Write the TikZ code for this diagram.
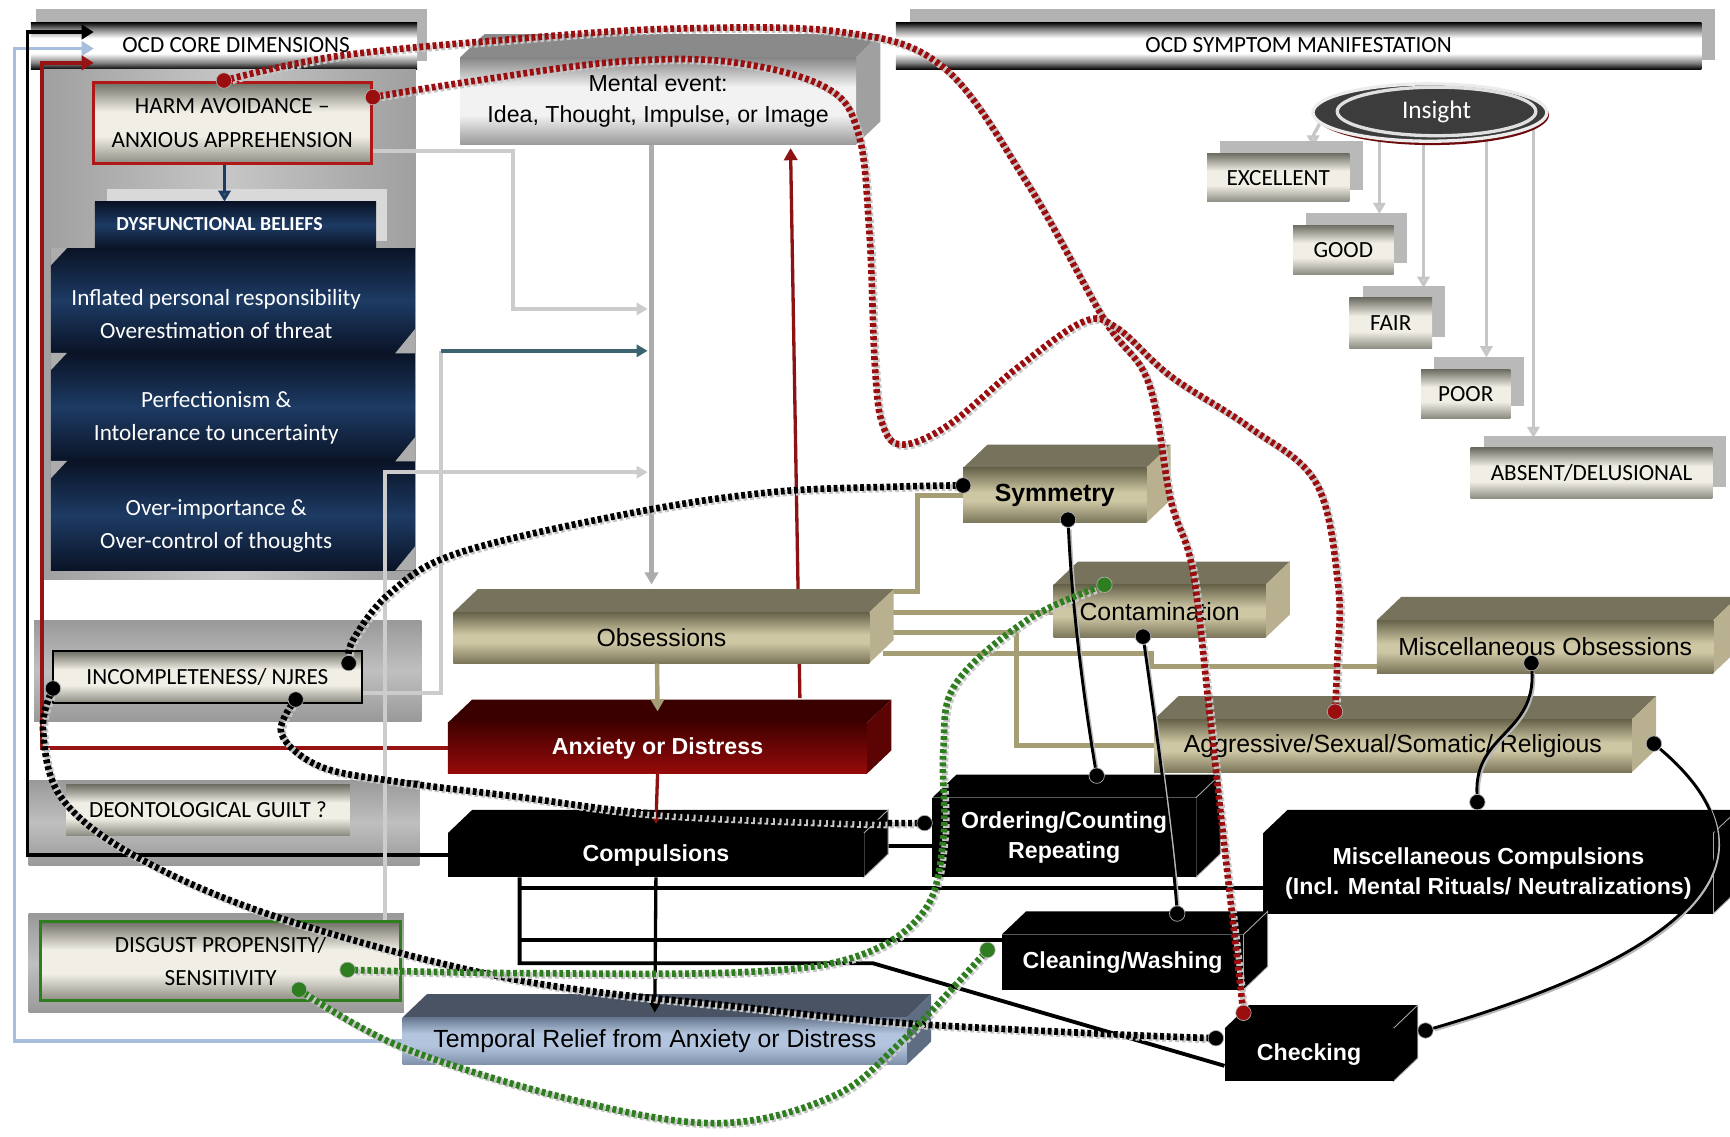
\documentclass[tikz,border=0pt]{standalone}
\usepackage{fontspec}
\setmainfont{Carlito}
\newfontfamily\arialf{Liberation Sans}
\usetikzlibrary{arrows.meta,calc,shapes.geometric}

\pgfdeclarelayer{back}
\pgfdeclarelayer{bg}
\pgfdeclarelayer{fore}
\pgfsetlayers{back,bg,main,fore}

% palette
\definecolor{khT}{HTML}{77725B}
\definecolor{khS}{HTML}{B8B08E}
\definecolor{khD}{HTML}{67634A}
\definecolor{khB}{HTML}{7A7559}
\definecolor{khL}{HTML}{CEC7A4}
\definecolor{anxT}{HTML}{3A0000}
\definecolor{anxS}{HTML}{5C0404}
\definecolor{anxD}{HTML}{420000}
\definecolor{anxL}{HTML}{960A0A}
\definecolor{tmpT}{HTML}{4A5363}
\definecolor{tmpS}{HTML}{5E6D82}
\definecolor{tmpB}{HTML}{7F90AA}
\definecolor{tmpL}{HTML}{B2C4DE}
\definecolor{tmpD}{HTML}{66768E}
\definecolor{menT}{HTML}{8A8A8A}
\definecolor{menS}{HTML}{A0A0A0}
\definecolor{menB}{HTML}{9A9A9A}
\definecolor{menL}{HTML}{F2F2F2}
\definecolor{menD}{HTML}{858585}
\definecolor{navyD}{HTML}{0A1326}
\definecolor{navyM}{HTML}{1D3B64}
\definecolor{crB}{HTML}{8C8B82}
\definecolor{crD}{HTML}{6F6E64}
\definecolor{crL}{HTML}{F1EFE5}
\definecolor{dotred}{HTML}{9B0E10}
\definecolor{dotgreen}{HTML}{2E7D1E}
\definecolor{lblue}{HTML}{A7BEDC}
\definecolor{harmred}{HTML}{B01818}
\definecolor{khline}{HTML}{A59D74}
\definecolor{tealln}{HTML}{3C6470}
\definecolor{insdark}{HTML}{3C3C3C}

\pgfdeclareverticalshading{barsh}{100bp}{color(0bp)=(black); color(25bp)=(black); color(32bp)=(gray); color(42bp)=(white); color(58bp)=(white); color(68bp)=(gray); color(75bp)=(black); color(100bp)=(black)}
\pgfdeclareverticalshading{creamsh}{100bp}{color(0bp)=(crB); color(25bp)=(crB); color(42bp)=(crL); color(57bp)=(crL); color(75bp)=(crD); color(100bp)=(crD)}
\pgfdeclareverticalshading{khsh}{100bp}{color(0bp)=(khB); color(25bp)=(khB); color(45bp)=(khL); color(53bp)=(khL); color(75bp)=(khD); color(100bp)=(khD)}
\pgfdeclareverticalshading{mensh}{100bp}{color(0bp)=(menB); color(25bp)=(menB); color(42bp)=(menL); color(58bp)=(menL); color(75bp)=(menD); color(100bp)=(menD)}
\pgfdeclareverticalshading{tmpsh}{100bp}{color(0bp)=(tmpB); color(25bp)=(tmpB); color(45bp)=(tmpL); color(58bp)=(tmpL); color(75bp)=(tmpD); color(100bp)=(tmpD)}

\tikzset{
  cal/.style={font=\fontsize{21}{30}\selectfont},
  face/.style={inner sep=0pt, align=center},
  hdr/.style={face, shade, shading=barsh},
  cream/.style={face, cal, shade, shading=creamsh},
  navy/.style={face, top color=navyD, bottom color=navyD, middle color=navyM},
  wtxt/.style={cal, text=white, align=center, inner sep=0pt},
  ctxt/.style={cal, align=center, inner sep=0pt},
  khfront/.style={face, font=\arialf\fontsize{22.5}{28}\selectfont, shade, shading=khsh},
  khtop/.style={fill=khT},
  khside/.style={fill=khS},
  cpfront/.style={face, font=\arialf\bfseries\fontsize{21}{27}\selectfont, fill=black, text=white},
  cptop/.style={fill=black},
  cpside/.style={fill=black, draw=gray!70, line width=0.8pt},
  anxfront/.style={face, font=\arialf\bfseries\fontsize{21}{27}\selectfont, top color=anxD, bottom color=anxL, text=white},
  anxtop/.style={fill=anxT},
  anxside/.style={fill=anxS},
  tmpfront/.style={face, font=\arialf\fontsize{22.5}{28}\selectfont, shade, shading=tmpsh},
  tmptop/.style={fill=tmpT},
  tmpside/.style={fill=tmpS},
  menfront/.style={face, font=\arialf\fontsize{21}{28}\selectfont, shade, shading=mensh},
  mentop/.style={fill=menT},
  menside/.style={fill=menS},
  panel/.style={left color=gray!75, right color=gray!75, middle color=gray!45},
  hpanel/.style={top color=gray!80, bottom color=gray!80, middle color=gray!50},
  bevel/.style={fill=gray!65},
  dot/.style={circle, fill=#1, draw=gray!60, line width=0.6pt, minimum size=14pt, inner sep=0pt},
  bkln/.style={line width=3pt, draw=black, -{Triangle[length=11pt,width=13pt]}},
  blln/.style={line width=3pt, draw=lblue, -{Triangle[length=11pt,width=13pt]}},
  rdln/.style={line width=3pt, draw=harmred!85!black, -{Triangle[length=11pt,width=13pt]}},
  lgline/.style={line width=3.5pt, draw=gray!40},
  lgarrow/.style={lgline, -{Triangle[length=10pt,width=11pt]}},
  tealarrow/.style={line width=3pt, draw=tealln, -{Triangle[length=10pt,width=11pt]}},
  nvarrow/.style={line width=3pt, draw=navyM, -{Triangle[length=10pt,width=11pt,fill=tealln]}},
  mvarrow/.style={line width=4pt, draw=gray!65, -{Triangle[length=11pt,width=12pt]}},
  rdarrow/.style={line width=3pt, draw=harmred!80!black, -{Triangle[length=11pt,width=12pt]}},
  kharrow/.style={line width=4pt, draw=khline, -{Triangle[length=11pt,width=12pt,fill=khline]}},
  bkarrow/.style={line width=3pt, draw=black, -{Triangle[length=11pt,width=12pt]}},
  bkthick/.style={line width=3.5pt, draw=black},
  khln/.style={line width=4.5pt, draw=khline},
  insarrow/.style={line width=3pt, draw=gray!45, -{Triangle[length=10pt,width=11pt,fill=gray!35]}},
  bcurve/.style={line width=2.6pt, draw=black},
  bshadow/.style={line width=2.6pt, draw=gray!55, transform canvas={xshift=1.5pt,yshift=-1.5pt}},
  dotshadow/.style={line width=6pt, draw=gray!45, dash pattern=on 3.5pt off 2.5pt, transform canvas={xshift=1.8pt,yshift=-1.8pt}},
  dotR/.style={line width=6pt, draw=dotred, dash pattern=on 3.5pt off 2.5pt},
  dotB/.style={line width=6pt, draw=black, dash pattern=on 3.5pt off 2.5pt},
  dotG/.style={line width=6pt, draw=dotgreen, dash pattern=on 3.5pt off 2.5pt},
}

% a box drawn as a slab: top face, right face and a shaded front node
% #1 name, #2 style family, #3 x1, #4 y1, #5 x2, #6 y2, #7 text
\newcommand\slab[7]{%
  \fill[#2top] (#3,#4) -- (#3+22,#4-21) -- (#5+22,#4-21) -- (#5,#4) -- cycle;
  \fill[#2side] (#5,#4) -- (#5+22,#4-21) -- (#5+22,#6-21) -- (#5,#6) -- cycle;
  \node[#2front, minimum width={#5-#3}, minimum height={#6-#4}] (#1) at ({(#3+#5)/2},{(#4+#6)/2}) {#7};
}
% an insight level box with its grey backing plate
\newcommand\level[6]{%
  \fill[gray!55] (#2+12,#3-11) rectangle (#4+12,#5-11);
  \node[cream, minimum width={#4-#2}, minimum height={#5-#3}] (#1) at ({(#2+#4)/2},{(#3+#5)/2}) {#6};
}
% dotted link with its grey shadow
\newcommand\dotlink[2]{%
  \draw[dotshadow] plot[smooth, tension=0.6] coordinates {#2};
  \draw[#1] plot[smooth, tension=0.6] coordinates {#2};
}

\begin{document}
\begin{tikzpicture}[x=1pt,y=-1pt]
\useasboundingbox (0,0) rectangle (1568,1030);

%==================== left column: core dimensions ====================
\begin{pgfonlayer}{back}
\fill[white] (0,0) rectangle (1568,1030);
% header
\fill[gray!60] (33,8) rectangle (387,55);
\node[hdr, minimum width=350, minimum height=43] (hcore) at (203,41.5) {};
\node[ctxt] (hcoret) at (214,41) {OCD CORE DIMENSIONS};
% panel behind harm avoidance and beliefs
\path[panel] (37,63) rectangle (377,525);
\fill[gray!30] (97,171) rectangle (351,218);
\node[cream, draw=harmred, line width=2.5pt, minimum width=252, minimum height=74] (harm) at (210.5,111.5)
  {HARM AVOIDANCE –\\ANXIOUS APPREHENSION};
\node[navy, minimum width=255, minimum height=42] (dys) at (213.5,204) {};
\node[wtxt, font=\bfseries\fontsize{18}{22}\selectfont] (dyst) at (199,203) {DYSFUNCTIONAL BELIEFS};
% belief blocks
\node[navy, minimum width=330, minimum height=95] (b1) at (211,272.5) {};
\node[navy, minimum width=330, minimum height=98] (b2) at (211,369) {};
\node[navy, minimum width=330, minimum height=99] (b3) at (211,467.5) {};
\fill[bevel] (b1.north west) -- ++(15,0) -- ++(-15,16) -- cycle;
\fill[bevel] (b2.north west) -- ++(15,0) -- ++(-15,16) -- cycle;
\fill[bevel] (b3.north west) -- ++(15,0) -- ++(-15,16) -- cycle;
\fill[bevel] (b1.south east) -- ++(0,-22) -- ++(-18,22) -- cycle;
\fill[bevel] (b2.south east) -- ++(0,-22) -- ++(-18,22) -- cycle;
\fill[bevel] (b3.south east) -- ++(0,-22) -- ++(-18,22) -- cycle;
\node[wtxt] (b1t) at (196,285) {Inflated personal responsibility\\Overestimation of threat};
\node[wtxt] (b2t) at (196,379) {Perfectionism \&\\Intolerance to uncertainty};
\node[wtxt] (b3t) at (196,477) {Over-importance \&\\Over-control of thoughts};
% incompleteness
\path[hpanel] (31,562) rectangle (382,654);
\node[cream, draw=black, line width=2pt, minimum width=280, minimum height=47] (inc) at (188,613.5) {INCOMPLETENESS/ NJRES};
% deontological guilt
\path[hpanel] (26,707) rectangle (380,784);
\node[cream, minimum width=257, minimum height=46] (deo) at (188.5,734) {DEONTOLOGICAL GUILT ?};
% disgust
\path[hpanel] (26,828) rectangle (366,918);
\node[cream, draw=dotgreen, line width=2.5pt, minimum width=326, minimum height=72] (dis) at (200,871)
  {DISGUST PROPENSITY/\\SENSITIVITY};
\end{pgfonlayer}

%==================== central chain and symptom blocks ====================
\slab{men}{men}{417}{52}{776}{131}{Mental event:\\Idea, Thought, Impulse, or Image}
\slab{obs}{kh}{411}{555}{788}{601}{Obsessions}
\slab{anx}{anx}{406}{655}{786}{701}{Anxiety or Distress}
\slab{cmp}{cp}{406}{755}{783}{795}{Compulsions}
\slab{tmp}{tmp}{365}{922}{822}{965}{Temporal Relief from Anxiety or Distress}

\slab{sym}{kh}{873}{424}{1039}{474}{\bfseries Symmetry}
\slab{cnt}{kh}{955}{530}{1147}{578}{Contamination}
\slab{mob}{kh}{1248}{562}{1553}{610}{Miscellaneous Obsessions}
\slab{agg}{kh}{1046}{652}{1479}{700}{Aggressive/Sexual/Somatic/ Religious}

\slab{ord}{cp}{845}{723}{1084}{795}{Ordering/Counting\\Repeating}
\slab{msc}{cp}{1145}{755}{1553}{828}{Miscellaneous Compulsions\\(Incl. Mental Rituals/ Neutralizations)}
\slab{cln}{cp}{908}{847}{1127}{897}{Cleaning/Washing}
\slab{chk}{cp}{1110}{932}{1263}{980}{Checking}

% steps of the central chain, drawn over the slab tops
\draw[kharrow] ([xshift=-4pt]obs.south) -- ([yshift=10pt]anx.north);
\draw[rdarrow] (anx.south) -- ([yshift=8pt]cmp.north);
\draw[bkarrow] (cmp.south) -- ([yshift=4pt]tmp.north);

%==================== right column: symptom manifestation ====================
\fill[gray!60] (825,8) rectangle (1554,54);
\node[hdr, minimum width=730, minimum height=43] (hsym) at (1177,41.5) {};
\node[ctxt] (hsymt) at (1177,41) {OCD SYMPTOM MANIFESTATION};

\fill[dotred!70!black] (1298,104) ellipse (106 and 27.5);
\node[ellipse, fill=insdark, draw=gray!15, line width=3pt, minimum width=212, minimum height=52] (insO) at (1296,102) {};
\node[ellipse, fill=insdark, draw=gray!25, line width=3pt, minimum width=180, minimum height=44,
      text=white, font=\fontsize{23}{26}\selectfont] (ins) at (1302,101) {Insight};

\level{exc}{1094}{139}{1223}{183}{EXCELLENT}
\level{good}{1172}{204}{1263}{249}{GOOD}
\level{fair}{1223}{270}{1298}{316}{FAIR}
\level{poor}{1288}{335}{1369}{379}{POOR}
\level{abs}{1333}{406}{1552}{452}{ABSENT/DELUSIONAL}

%==================== solid connectors ====================
\begin{pgfonlayer}{bg}
\coordinate (inBk) at (85,29);
\coordinate (inBl) at (85,44);
\coordinate (inRd) at (85,57);
\draw[blln] (tmp.west) -| (13,44) -- (inBl);
\draw[bkln] (cmp.west) -| (25,29) -- (inBk);
\draw[rdln] (anx.west) -| (38,57) -- (inRd);

\draw[nvarrow] ([xshift=-7pt]harm.south) -- ([xshift=-10pt]dys.north);

\coordinate (mL1) at (587,280);
\coordinate (mL2) at (587,318);
\coordinate (mL3) at (587,428);
\coordinate (tcorner) at (400,318);
\draw[lgarrow] ([yshift=13pt]harm.south east) -| (465,280) -- (mL1);
\draw[lgline] ([yshift=-14.5pt]inc.east) -| (tcorner);
\draw[tealarrow] (tcorner) -- (mL2);
\draw[lgarrow] ([xshift=-15pt]dis.north east) |- (mL3);

\draw[mvarrow] ([xshift=-6pt]men.south) -- ([xshift=-9pt,yshift=25pt]obs.north);
\draw[rdarrow] ([xshift=129pt,yshift=22pt]anx.north) -- ([xshift=120pt,yshift=-3pt]men.south);

% compulsions to their subtypes
\draw[bkthick] ([xshift=22pt,yshift=8pt]cmp.east) -- ([yshift=-8pt]ord.west);
\coordinate (cbr) at (471,873);
\draw[bkthick] (cmp.south -| cbr) -- (cbr) -- (791,873) -- ([yshift=-10pt]chk.west);
\draw[bkthick] (471,805) -- (msc.west |- 0,805);
\draw[bkthick] (471,852) -- (cln.west |- 0,852);

% obsessions to their subtypes
\draw[khln] ([xshift=12pt,yshift=42pt]obs.east) -| (832,449) -- (sym.west);
\draw[khln] ([xshift=12pt,yshift=23pt]obs.east) -- (cnt.west |- 0,555);
\draw[khln] ([xshift=12pt,yshift=5pt]obs.east) -| (921,676) -- (agg.west);
\draw[khln] ([xshift=12pt,yshift=-14pt]obs.east) -| (1044,604) -- (mob.west |- 0,604);

% insight levels
\draw[insarrow] ([xshift=10pt]insO.west) to[out=-95,in=90] ([xshift=-33pt,yshift=6pt]exc.north east);
\draw[insarrow] ([xshift=-13pt]ins.center -| good.north east) -- ([xshift=-13pt,yshift=10pt]good.north east);
\draw[insarrow] ([xshift=-8pt]ins.center -| fair.north east) -- ([xshift=-8pt,yshift=9pt]fair.north east);
\draw[insarrow] ([xshift=-22pt]ins.center -| poor.north east) -- ([xshift=-22pt,yshift=11pt]poor.north east);
\draw[insarrow] ([xshift=57pt]ins.center -| abs.north west) -- ([xshift=57pt,yshift=9pt]abs.north west);
\end{pgfonlayer}

%==================== link dots ====================
\begin{pgfonlayer}{fore}
\node[dot=dotred] (dH1) at (203,73) {};
\node[dot=dotred] (dH2) at (338,88) {};
\node[dot=dotred] (dChkT) at (1127,918) {};
\node[dot=dotred] (dAgg) at (1210,645) {};
\node[dot=black] (dSymL) at (873,440) {};
\node[dot=black] (dIncR) at (316,601) {};
\node[dot=black] (dIncB) at (268,634) {};
\node[dot=black] (dIncL) at (48,624) {};
\node[dot=black] (dOrdL) at (838,746) {};
\node[dot=black] (dChkL) at (1102,941) {};
\node[dot=dotgreen] (dDisR) at (315,879) {};
\node[dot=dotgreen] (dDisB) at (271,897) {};
\node[dot=dotgreen] (dCnt) at (1001,530) {};
\node[dot=dotgreen] (dClnL) at (895,861) {};
\node[dot=black] (dSymB) at (968,471) {};
\node[dot=black] (dOrdT) at (994,703) {};
\node[dot=black] (dCntB) at (1036,577) {};
\node[dot=black] (dClnT) at (1067,828) {};
\node[dot=black] (dMobB) at (1388,601) {};
\node[dot=black] (dMcpT) at (1339,727) {};
\node[dot=black] (dAggR) at (1499,674) {};
\node[dot=black] (dChkR) at (1292,934) {};
\end{pgfonlayer}

%==================== curved links ====================
\draw[bshadow] (dSymB) .. controls (972,560) and (985,650) .. (dOrdT);
\draw[bcurve] (dSymB) .. controls (972,560) and (985,650) .. (dOrdT);
\draw[bshadow] (dCntB) .. controls (1045,640) and (1062,760) .. (dClnT);
\draw[bcurve] (dCntB) .. controls (1045,640) and (1062,760) .. (dClnT);
\draw[bshadow] (dMobB) .. controls (1392,665) and (1336,665) .. (dMcpT);
\draw[bcurve] (dMobB) .. controls (1392,665) and (1336,665) .. (dMcpT);
\draw[bshadow] (dAggR) .. controls (1600,760) and (1580,850) .. (dChkR);
\draw[bcurve] (dAggR) .. controls (1600,760) and (1580,850) .. (dChkR);

\dotlink{dotR}{(dH1) (305,51) (458,36) (610,26) (763,29) (855,61) (931,166) (1001,290) (1041,347) (1061,453) (1081,517) (1097,653) (1107,743) (1118,840) (dChkT)}
\dotlink{dotR}{(dH2) (432,73) (559,56) (661,56) (748,79) (778,121) (788,211) (793,332) (800,385) (818,403) (860,385) (920,335) (981,292) (1012,297) (1061,341) (1132,387) (1193,438) (1213,532) (1212,600) (dAgg)}
\dotlink{dotB}{(dSymL) (816,441) (700,446) (572,465) (416,501) (354,537) (320,580) (dIncR)}
\dotlink{dotB}{(dIncB) (255,665) (291,695) (364,709) (468,722) (588,737) (760,745) (dOrdL)}
\dotlink{dotB}{(dIncL) (39,662) (57,725) (130,780) (260,834) (468,888) (676,913) (816,927) (1000,937) (dChkL)}
\dotlink{dotG}{(dDisR) (468,882) (676,881) (779,866) (838,825) (855,760) (855,680) (866,620) (931,562) (dCnt)}
\dotlink{dotG}{(dDisB) (364,949) (520,997) (651,1018) (754,994) (816,945) (dClnL)}
\end{tikzpicture}
\end{document}
